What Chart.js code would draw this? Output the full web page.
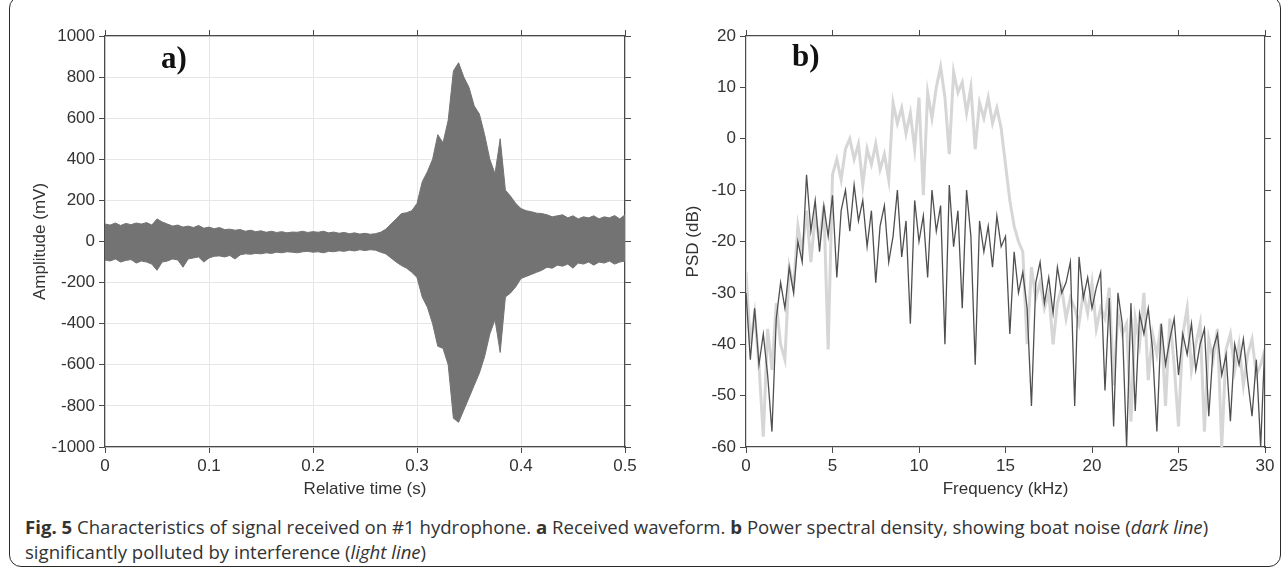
<!DOCTYPE html>
<html>
<head>
<meta charset="utf-8">
<script src="https://cdn.jsdelivr.net/npm/chart.js@4.4.1/dist/chart.umd.min.js"></script>
<style>
  body { margin: 0; width: 1287px; height: 571px; background: #fff; position: relative; overflow: hidden; }
  #frame { position: absolute; left: 9px; top: -4px; width: 1270px; height: 569px; border: 1.6px solid #2a2a2a; border-radius: 12px; }
  canvas { position: absolute; top: 0; }
  #chartA { left: 0; }
  #chartB { left: 640px; }
  .panel-tag { position: absolute; font-family: "Liberation Serif", serif; font-weight: bold; font-size: 31px; color: #111; }
  #caption { position: absolute; left: 25px; top: 514px; width: 1250px; font-family: "Open Sans", sans-serif; font-size: 18.6px; line-height: 25px; color: #333; white-space: nowrap; }
</style>
</head>
<body>
<div id="frame"></div>
<canvas id="chartA" width="650" height="510"></canvas>
<canvas id="chartB" width="647" height="510"></canvas>
<div class="panel-tag" style="left:161px; top:40px;">a)</div>
<div class="panel-tag" style="left:792px; top:38px;">b)</div>
<div id="caption"><b>Fig. 5</b> Characteristics of signal received on #1 hydrophone. <b>a</b> Received waveform. <b>b</b> Power spectral density, showing boat noise (<i>dark line</i>)<br>significantly polluted by interference (<i>light line</i>)</div>
<script>
// panel a: waveform envelope (mV)
const timeS = [0, 0.005, 0.01, 0.015, 0.02, 0.025, 0.03, 0.035, 0.04, 0.045,
  0.05, 0.055, 0.06, 0.065, 0.07, 0.075, 0.08, 0.085, 0.09, 0.095,
  0.1, 0.105, 0.11, 0.115, 0.12, 0.125, 0.13, 0.135, 0.14, 0.145,
  0.15, 0.155, 0.16, 0.165, 0.17, 0.175, 0.18, 0.185, 0.19, 0.195,
  0.2, 0.205, 0.21, 0.215, 0.22, 0.225, 0.23, 0.235, 0.24, 0.245,
  0.25, 0.255, 0.26, 0.265, 0.27, 0.275, 0.28, 0.285, 0.29, 0.295,
  0.3, 0.305, 0.31, 0.315, 0.32, 0.325, 0.33, 0.335, 0.34, 0.345,
  0.35, 0.355, 0.36, 0.365, 0.37, 0.375, 0.38, 0.385, 0.39, 0.395,
  0.4, 0.405, 0.41, 0.415, 0.42, 0.425, 0.43, 0.435, 0.44, 0.445,
  0.45, 0.455, 0.46, 0.465, 0.47, 0.475, 0.48, 0.485, 0.49, 0.495,
  0.5];
const ampUpper = [85, 80, 90, 78, 88, 82, 90, 85, 92, 80,
  110, 95, 85, 75, 80, 70, 75, 68, 78, 65,
  70, 62, 68, 58, 60, 55, 58, 50, 55, 48,
  52, 45, 50, 44, 48, 42, 46, 45, 50, 44,
  48, 45, 50, 42, 46, 40, 44, 38, 42, 36,
  40, 35, 38, 45, 60, 85, 110, 136, 140, 150,
  185, 290, 340, 400, 520, 480, 590, 830, 870, 800,
  750, 660, 620, 520, 400, 330, 500, 250, 220, 185,
  160, 150, 145, 138, 136, 130, 120, 125, 130, 115,
  125, 110, 120, 115, 125, 110, 120, 115, 126, 110,
  130];
const ampLower = [-90, -95, -85, -100, -92, -88, -105, -95, -100, -110,
  -140, -100, -95, -85, -90, -125, -85, -80, -75, -100,
  -80, -72, -70, -75, -68, -85, -65, -60, -62, -58,
  -60, -55, -58, -52, -55, -50, -52, -55, -50, -48,
  -52, -50, -55, -48, -50, -45, -48, -42, -46, -40,
  -44, -40, -42, -52, -60, -80, -100, -117, -130, -150,
  -175, -270, -320, -400, -510, -520, -600, -860, -880, -820,
  -760, -700, -640, -560, -450, -380, -540, -270, -250, -220,
  -180, -170, -160, -150, -140, -125, -130, -115, -120, -110,
  -130, -105, -110, -100, -115, -100, -105, -95, -110, -100,
  -95];

// panel b: PSD (dB) vs frequency (kHz)
const freqKHz = [0, 0.25, 0.5, 0.75, 1, 1.25, 1.5, 1.75,
  2, 2.25, 2.5, 2.75, 3, 3.25, 3.5, 3.75,
  4, 4.25, 4.5, 4.75, 5, 5.25, 5.5, 5.75,
  6, 6.25, 6.5, 6.75, 7, 7.25, 7.5, 7.75,
  8, 8.25, 8.5, 8.75, 9, 9.25, 9.5, 9.75,
  10, 10.25, 10.5, 10.75, 11, 11.25, 11.5, 11.75,
  12, 12.25, 12.5, 12.75, 13, 13.25, 13.5, 13.75,
  14, 14.25, 14.5, 14.75, 15, 15.25, 15.5, 15.75,
  16, 16.25, 16.5, 16.75, 17, 17.25, 17.5, 17.75,
  18, 18.25, 18.5, 18.75, 19, 19.25, 19.5, 19.75,
  20, 20.25, 20.5, 20.75, 21, 21.25, 21.5, 21.75,
  22, 22.25, 22.5, 22.75, 23, 23.25, 23.5, 23.75,
  24, 24.25, 24.5, 24.75, 25, 25.25, 25.5, 25.75,
  26, 26.25, 26.5, 26.75, 27, 27.25, 27.5, 27.75,
  28, 28.25, 28.5, 28.75, 29, 29.25, 29.5, 29.75,
  30];
const boatNoise = [-30, -43, -33, -44, -38, -46, -57, -35,
  -28, -33, -25, -30, -20, -24, -7, -18,
  -12, -22, -13, -19, -11, -27, -14, -10,
  -18, -9, -16, -12, -21, -14, -28, -17,
  -13, -24, -19, -10, -23, -16, -36, -12,
  -20, -15, -27, -10, -18, -13, -40, -9,
  -21, -14, -33, -10, -19, -44, -16, -22,
  -17, -25, -15, -21, -19, -38, -22, -30,
  -26, -33, -52, -28, -24, -32, -27, -34,
  -25, -30, -28, -24, -52, -23, -31, -27,
  -33, -29, -26, -49, -31, -56, -30, -36,
  -60, -32, -53, -34, -38, -33, -41, -57,
  -36, -44, -39, -35, -46, -38, -42, -36,
  -45, -40, -37, -54, -41, -38, -46, -42,
  -55, -40, -44, -39, -47, -54, -43, -60,
  -39];
const interference = [-26, -40, -34, -44, -58, -37, -45, -32,
  -40, -43, -25, -29, -17, -22, -14, -24,
  -15, -20, -13, -41, -7, -4, -8, -2,
  0, -4, -1, -9, -2, -5, -1, -6,
  -3, -8, 7, 3, 6, 1, 5, -2,
  8, -11, 9, 4, 10, 14, 8, -3,
  13, 9, 11, 5, 10, -2, 7, 4,
  8, 3, 6, 2, -5, -12, -17, -20,
  -22, -40, -25, -31, -28, -33, -30, -40,
  -32, -29, -35, -31, -33, -36, -30, -34,
  -28, -37, -33, -35, -29, -48, -34, -38,
  -36, -55, -35, -40, -30, -47, -38, -42,
  -36, -52, -35, -44, -56, -38, -33, -45,
  -40, -36, -57, -39, -43, -37, -60, -41,
  -38, -45, -40, -48, -42, -39, -46, -44,
  -41];

const AXIS = '#4a4a4a';
const TEXT = '#333';
const FONT = { family: 'Liberation Sans, Arial, sans-serif', size: 17 };

function pairs(xs, ys) {
    return xs.map((x, i) => ({ x: x, y: ys[i] }));
}

// builds the four axes (left/bottom labelled, top/right mirrored ticks only)
function makeScales(opt) {
    const tick = { length: 6, color: AXIS };
    const fixed = (prop, size) => (scale) => { scale[prop] = size; };
    return {
        x: {
            type: 'linear', position: 'bottom', min: opt.xMin, max: opt.xMax,
            afterFit: fixed('height', opt.bottomH),
            border: { color: AXIS, width: 1.2 },
            grid: { display: true, drawOnChartArea: opt.grid, color: '#e6e6e6', tickColor: AXIS, tickLength: tick.length },
            ticks: { stepSize: opt.xStep, color: TEXT, font: FONT, padding: 3, maxRotation: 0,
                     callback: v => String(Math.round(v * 10) / 10) },
            title: { display: true, text: opt.xTitle, color: TEXT, font: FONT, padding: { top: 0, bottom: 10 } }
        },
        y: {
            type: 'linear', position: 'left', min: opt.yMin, max: opt.yMax,
            afterFit: fixed('width', opt.leftW),
            border: { color: AXIS, width: 1.2 },
            grid: { display: true, drawOnChartArea: opt.grid, color: '#e6e6e6', tickColor: AXIS, tickLength: tick.length },
            ticks: { stepSize: opt.yStep, color: TEXT, font: FONT, padding: 4, callback: v => String(v) },
            title: { display: true, text: opt.yTitle, color: TEXT, font: FONT, padding: { top: opt.yTitlePad, bottom: 0 } }
        },
        xTop: {
            type: 'linear', position: 'top', min: opt.xMin, max: opt.xMax,
            afterFit: fixed('height', opt.topH),
            border: { color: AXIS, width: 1.2 },
            grid: { drawOnChartArea: false, tickColor: AXIS, tickLength: tick.length },
            ticks: { stepSize: opt.xStep, display: false }
        },
        yRight: {
            type: 'linear', position: 'right', min: opt.yMin, max: opt.yMax,
            afterFit: fixed('width', opt.rightW),
            border: { color: AXIS, width: 1.2 },
            grid: { drawOnChartArea: false, tickColor: AXIS, tickLength: tick.length },
            ticks: { stepSize: opt.yStep, display: false }
        }
    };
}

function drawWaveform() {
    const ctx = document.getElementById('chartA').getContext('2d');
    new Chart(ctx, {
        type: 'line',
        data: {
            datasets: [{
                data: pairs(timeS, ampUpper),
                borderColor: '#737373', backgroundColor: '#737373',
                borderWidth: 1, pointRadius: 0, tension: 0, fill: '+1'
            }, {
                data: pairs(timeS, ampLower),
                borderColor: '#737373', borderWidth: 1, pointRadius: 0, tension: 0, fill: false
            }]
        },
        options: {
            responsive: false, animation: false, events: [],
            layout: { padding: 0 },
            plugins: { legend: { display: false }, tooltip: { enabled: false } },
            scales: makeScales({
                xMin: 0, xMax: 0.5, xStep: 0.1, yMin: -1000, yMax: 1000, yStep: 200,
                xTitle: 'Relative time (s)', yTitle: 'Amplitude (mV)', yTitlePad: 30,
                grid: true, leftW: 105, rightW: 25, topH: 36, bottomH: 63
            })
        }
    });
}

function drawSpectrum() {
    const ctx = document.getElementById('chartB').getContext('2d');
    new Chart(ctx, {
        type: 'line',
        data: {
            datasets: [{
                label: 'boat noise',
                data: pairs(freqKHz, boatNoise),
                borderColor: '#4f4f4f', borderWidth: 1.3, pointRadius: 0, tension: 0, order: 0
            }, {
                label: 'interference',
                data: pairs(freqKHz, interference),
                borderColor: '#d6d6d6', borderWidth: 3, pointRadius: 0, tension: 0, order: 1
            }]
        },
        options: {
            responsive: false, animation: false, events: [],
            layout: { padding: 0 },
            plugins: { legend: { display: false }, tooltip: { enabled: false } },
            scales: makeScales({
                xMin: 0, xMax: 30, xStep: 5, yMin: -60, yMax: 20, yStep: 10,
                xTitle: 'Frequency (kHz)', yTitle: 'PSD (dB)', yTitlePad: 43,
                grid: false, leftW: 106, rightW: 22, topH: 36, bottomH: 63
            })
        }
    });
}

drawWaveform();
drawSpectrum();
</script>
</body>
</html>
